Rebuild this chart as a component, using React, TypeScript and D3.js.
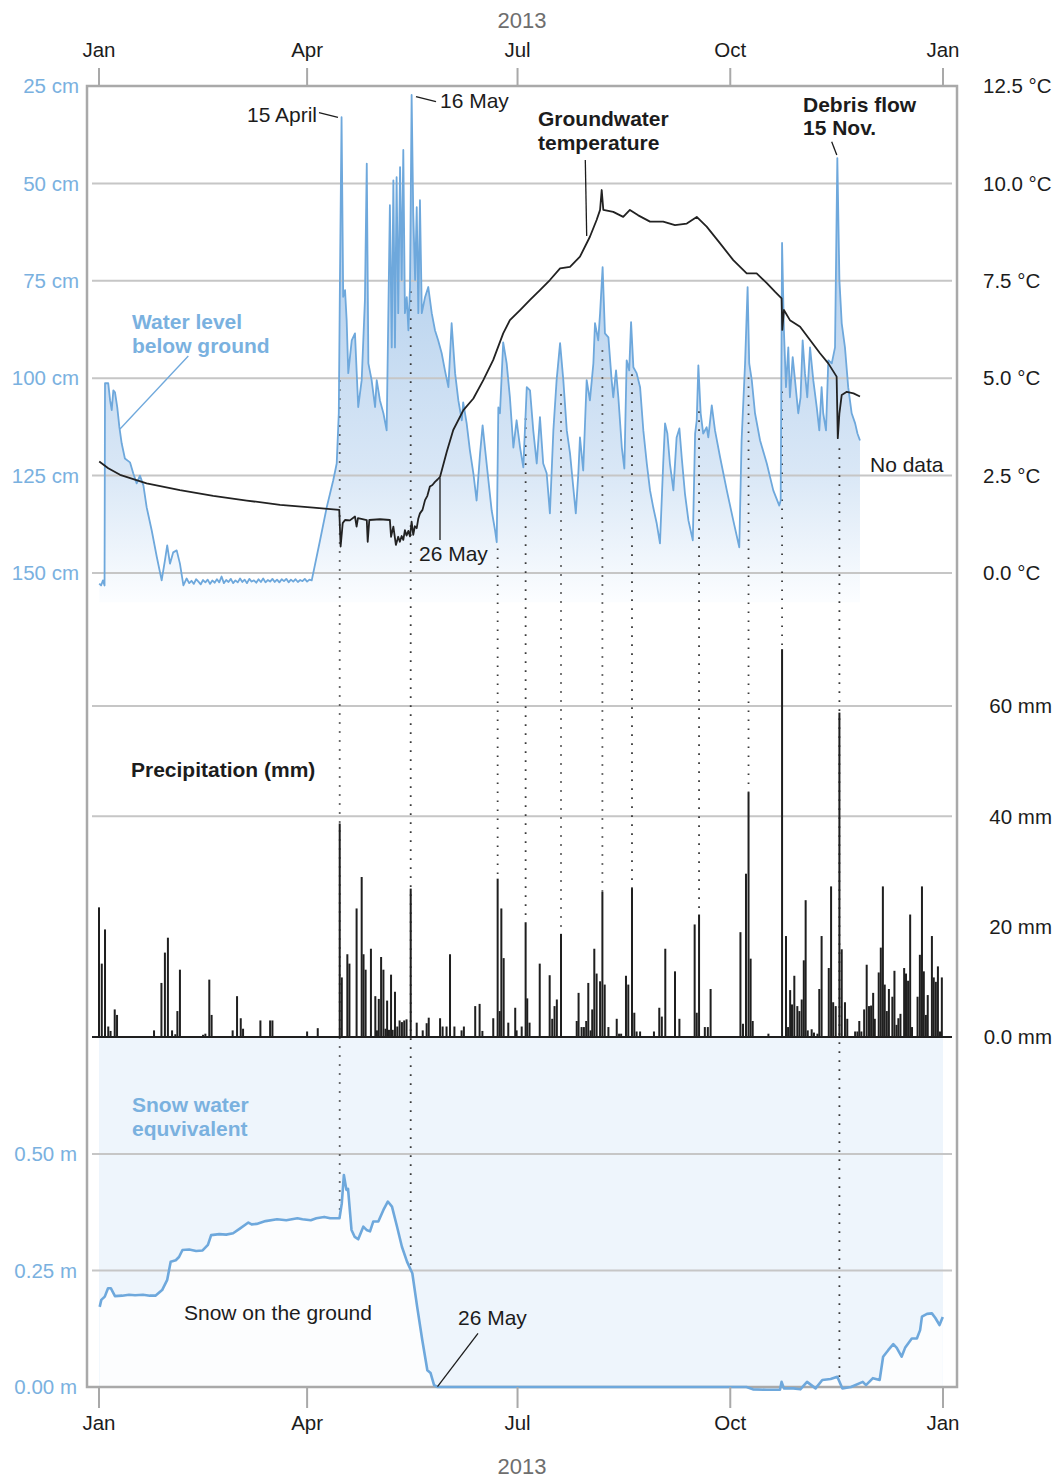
import React from "react";
import * as d3 from "d3";

// ---------- DATA (day of year 2013, value) ----------
const waterLevel: [number, number][] = [
  [0.1,152.7],[0.9,153.2],[1.7,151.9],[2.4,153.2],[2.6,101.3],[4.0,101.3],[4.8,105.7],[5.5,108.2],[6.2,103.1],[6.9,103.6],[7.9,107.5],[8.8,112.5],[9.8,116.7],[11.2,120.6],[13.4,121.6],[14.8,124.4],[16.3,127.0],[17.7,125.0],[19.2,127.5],[20.6,133.1],[22.8,139.1],[25.0,145.9],[27.1,151.9],[28.5,146.8],[29.5,142.9],[30.7,147.6],[32.1,144.7],[33.6,144.2],[35.0,147.6],[36.5,153.2],[37.9,151.4],
  [39,152.6],[40,152.0],[41,152.8],[42,151.6],[43,152.2],[44,152.9],[45,151.8],[46,152.4],[47,151.7],[48,152.8],[49,151.9],[50,152.5],[51,151.6],[52,152.4],[53,150.9],[54,152.6],[55,151.8],[56,152.3],[57,151.5],[58,152.6],[59,151.9],[60,152.4],[61,151.4],[62,152.3],[63,151.7],[64,152.6],[65,151.5],[66,152.2],[67,151.9],[68,152.5],[69,151.6],[70,152.3],[71,151.4],[72,152.4],[73,151.8],[74,152.2],[75,151.5],[76,152.3],[77,151.7],[78,152.4],[79,151.6],[80,152.1],[81,151.5],[82,152.4],[83,151.7],[84,152.2],[85,151.6],[86,152.3],[87,151.8],[88,152.1],[89,151.5],[90,152.2],[91,151.7],[92.0,151.9],
  [95.6,141.6],[98.5,133.1],[101.3,126.2],[102.8,121.9],[103.7,109.0],[104.2,74.8],[104.9,33.0],[105.6,79.1],[106.4,77.4],[107.1,85.1],[107.8,98.7],[109.3,90.3],[110.7,88.5],[112.1,107.4],[113.6,100.5],[115.0,80.0],[115.8,44.9],[116.5,96.2],[117.9,100.5],[119.4,107.4],[120.1,100.5],[121.5,105.7],[123.0,109.0],[124.4,113.4],[125.8,55.6],[126.6,92.1],[127.3,49.2],[128.0,92.1],[128.7,48.4],[129.4,83.3],[130.2,45.8],[130.9,74.8],[131.6,41.4],[132.3,83.3],[133.1,79.2],[133.8,87.7],[134.5,76.6],[135.2,27.3],[135.9,57.6],[136.7,74.8],[137.4,56.1],[138.1,83.3],[138.8,54.3],[139.6,83.3],[141.0,79.2],[142.4,76.6],[143.9,83.3],[145.3,87.7],[146.7,90.3],[148.2,93.6],[149.6,98.0],[151.1,102.3],[152.5,85.9],[154.0,98.7],[155.4,105.7],[156.9,110.8],[157.5,106.2],[159.0,111.6],[160.4,118.5],[161.9,124.4],[163.3,131.4],[164.8,119.3],[165.9,112.1],[166.9,117.8],[168.4,126.2],[169.8,133.9],[171.3,139.1],[172.0,142.1],[172.7,107.5],[173.4,109.0],[174.8,90.8],[176.3,96.2],[177.7,104.9],[179.2,117.8],[180.6,110.8],[182.1,117.8],[183.5,122.9],[185.0,102.3],[186.4,103.1],[187.8,113.4],[189.3,121.9],[190.7,110.0],[192.1,121.9],[193.6,124.4],[195.0,134.7],[196.5,113.4],[197.9,100.5],[199.4,91.0],[200.8,100.5],[202.3,113.4],[203.7,119.3],[205.1,128.0],[206.2,134.7],[207.3,124.4],[208.0,115.2],[209.4,123.7],[210.9,100.5],[212.3,105.7],[213.8,96.2],[214.5,85.9],[215.9,90.3],[216.7,83.3],[217.8,71.5],[218.8,88.5],[220.3,89.5],[221.7,100.5],[222.4,104.9],[223.6,98.0],[224.6,104.9],[226.1,117.8],[227.2,123.2],[228.2,95.4],[229.3,98.0],[230.1,85.6],[231.1,97.2],[232.5,98.7],[234.0,102.3],[235.4,113.4],[236.9,121.9],[238.3,128.8],[239.7,133.2],[241.2,137.3],[242.6,142.4],[244.0,121.9],[244.8,111.6],[245.8,114.2],[246.9,121.9],[248.4,128.8],[249.8,115.2],[251.0,112.9],[252.0,120.3],[253.4,129.6],[254.9,136.5],[256.8,141.6],[257.8,114.2],[258.5,110.8],[259.2,96.7],[260.2,109.0],[261.3,114.2],[262.8,112.6],[263.5,115.2],[265.0,107.0],[266.4,113.4],[268.6,120.3],[271.5,128.8],[274.3,136.5],[276.9,143.4],[277.9,116.0],[279.4,96.2],[280.5,76.6],[281.2,96.2],[282.3,100.5],[283.7,109.0],[285.9,116.0],[288.8,121.9],[291.6,128.8],[294.2,132.7],[294.8,131.4],[295.4,65.3],[296.2,87.7],[297.1,102.3],[298.1,92.1],[298.8,104.9],[300.0,94.6],[301.0,100.5],[302.4,109.0],[303.4,104.9],[304.3,90.3],[305.3,98.7],[306.3,104.9],[307.5,92.1],[308.9,100.5],[310.4,107.5],[311.5,113.4],[312.5,102.3],[313.2,109.0],[314.4,113.4],[315.4,95.4],[316.9,96.2],[318.3,92.1],[319.3,43.5],[320.2,74.8],[321.2,85.9],[322.6,92.1],[324.0,102.3],[325.5,109.0],[327.0,111.6],[328.0,114.2],[329.1,116.0],
];

const groundwaterTemp: [number, number][] = [
  [0.1,2.86],[4.0,2.69],[9.1,2.52],[20.6,2.30],[35.0,2.13],[49.4,1.98],[63.9,1.86],[78.3,1.75],[92.7,1.68],[103.9,1.62],[104.5,0.68],[105.4,1.28],[106.4,1.36],[108.5,1.35],[110.7,1.45],[111.4,1.19],[112.0,1.41],[115.8,1.36],[116.2,0.80],[116.9,1.36],[121.5,1.38],[125.8,1.36],[126.3,0.93],[127.3,1.19],[128.4,0.72],[129.4,0.93],[130.1,0.80],[130.9,0.95],[131.6,0.85],[132.3,1.10],[133.0,0.96],[133.8,1.08],[134.5,0.94],[135.2,1.32],[135.9,0.98],[136.6,1.20],[137.4,1.15],[138.1,1.40],[138.8,1.53],[139.9,1.62],[141.0,1.87],[142.0,1.98],[143.1,2.22],[144.2,2.26],[145.3,2.34],[146.4,2.40],[147.5,2.47],[150.4,3.11],[153.2,3.67],[157.6,4.18],[161.9,4.48],[166.2,4.95],[170.5,5.47],[174.8,6.15],[177.7,6.49],[182.1,6.75],[186.4,7.01],[190.7,7.26],[195.0,7.52],[199.4,7.82],[203.7,7.86],[208.0,8.12],[212.3,8.63],[215.2,9.06],[216.7,9.32],[217.4,9.83],[218.1,9.32],[222.4,9.27],[226.7,9.14],[229.6,9.32],[233.2,9.18],[238.3,9.02],[244.0,9.02],[249.1,8.93],[254.2,8.97],[258.5,9.14],[262.8,8.89],[268.6,8.46],[274.3,8.03],[280.1,7.69],[284.4,7.69],[288.8,7.44],[292.3,7.22],[295.2,7.05],[295.5,6.24],[296.2,6.75],[298.8,6.49],[303.2,6.32],[307.5,5.98],[311.8,5.64],[315.4,5.38],[319.0,5.04],[319.5,3.46],[320.2,4.10],[321.2,4.57],[323.4,4.65],[326.3,4.61],[329.1,4.53],
];

const precipitation: [number, number][] = [
  [0.0,23.5],[1.2,13.3],[2.6,19.5],[4.0,1.9],[5.0,1.1],[6.8,5.0],[7.8,4.0],
  [23.8,1.2],[27.0,9.8],[28.5,15.3],[29.8,18.0],[31.6,1.2],[33.0,0.5],[33.9,4.7],[35.0,12.2],
  [45.0,0.4],[46.0,0.6],[47.7,10.4],[48.7,4.0],[57.8,1.2],[59.7,7.4],[61.3,3.4],[62.3,1.5],
  [69.8,3.0],[74.0,3.0],[75.0,3.0],[90.0,1.0],[94.6,1.6],
  [104.1,38.7],[105.0,10.8],[107.4,15.0],[108.3,13.3],[111.4,23.3],[113.6,29.0],[114.4,15.0],[115.3,12.2],[117.6,16.0],[119.5,7.4],[120.2,1.2],[121.0,6.9],[122.0,14.5],[123.0,12.2],[123.9,1.5],[124.6,6.6],[125.4,1.3],[126.3,11.3],[127.0,1.3],[128.0,8.2],[129.0,1.9],[130.0,3.0],[131.0,2.7],[132.0,3.0],[133.0,3.2],[134.8,26.9],[137.4,2.6],[140.0,1.2],[141.7,2.5],[142.6,3.5],[147.5,3.4],[148.6,1.9],[150.3,1.9],[151.8,15.0],[153.7,1.9],[156.8,1.2],[157.8,1.9],[162.7,5.6],[164.6,6.0],[165.8,1.1],[170.5,3.4],
  [172.4,28.7],[173.3,4.7],[174.0,23.3],[175.0,14.3],[177.0,2.6],[180.0,5.3],[180.6,1.2],[182.8,1.9],[184.5,20.8],[185.2,7.0],[186.2,2.6],[190.6,13.3],[194.9,11.2],[196.0,3.3],[197.0,5.6],[198.0,6.8],[199.8,18.7],
  [206.6,2.9],[207.4,8.0],[208.7,1.8],[209.7,1.8],[210.7,2.9],[211.6,9.8],[212.6,1.2],[213.3,5.0],[214.2,16.0],[215.2,11.5],[216.7,10.1],[217.7,26.3],[218.7,9.5],[220.3,1.8],[223.9,3.3],[224.9,0.6],[225.8,0.6],[227.9,11.1],[228.9,9.5],[230.5,27.0],[231.5,4.4],[232.5,1.0],[234.0,1.0],[240.0,1.0],[242.3,5.3],[243.4,3.7],[244.9,16.0],[249.1,11.9],[251.0,3.3],[257.6,20.4],[258.5,4.4],[259.5,22.2],[262.0,1.8],[263.3,1.8],[264.5,8.7],
  [277.4,19.0],[278.5,2.4],[279.8,29.6],[280.9,44.4],[281.8,14.2],[282.7,2.9],[289.5,0.6],[295.4,70.3],[297.1,18.3],[298.0,1.8],[298.9,8.5],[299.7,5.9],[300.7,11.1],[302.0,5.6],[302.9,4.7],[303.9,6.8],[304.8,13.9],[305.6,24.8],[306.5,1.2],[308.2,1.4],[309.2,0.8],[310.7,0.6],[311.5,8.7],[312.5,18.3],[315.6,12.5],[316.6,27.3],[317.5,6.3],[318.6,5.6],[320.2,58.8],[321.2,15.9],[322.6,6.3],[323.6,3.3],
  [327.0,1.0],[328.0,1.0],[328.8,2.9],[329.7,1.0],[330.9,5.0],[332.0,13.1],[333.0,5.6],[333.9,5.7],[334.8,8.0],[335.5,3.3],[337.2,11.7],[338.1,16.2],[339.0,27.3],[339.8,9.5],[340.7,4.7],[341.6,8.7],[343.1,7.3],[344.0,12.0],[344.9,2.2],[345.7,3.4],[346.6,4.2],[348.2,12.5],[349.0,11.5],[349.9,10.2],[350.8,22.2],[351.6,1.8],[354.0,7.3],[355.0,14.9],[355.9,27.3],[356.7,11.9],[357.6,4.0],[358.4,7.6],[360.2,18.3],[361.0,10.8],[361.9,10.0],[362.8,12.8],[363.7,1.0],[364.5,10.8],
];

const snowWaterEquivalent: [number, number][] = [
  [0.3,0.172],[1.0,0.187],[2.5,0.194],[3.9,0.212],[5.1,0.212],[6.9,0.195],[10.0,0.196],[13.0,0.198],[15.6,0.197],[19.0,0.198],[22.0,0.196],[24.4,0.196],[27.3,0.208],[29.5,0.230],[31.0,0.269],[33.2,0.272],[34.6,0.279],[36.1,0.294],[39.0,0.295],[42.0,0.292],[44.8,0.293],[47.1,0.305],[48.5,0.326],[52.0,0.328],[55.0,0.327],[58.0,0.330],[60.9,0.340],[64.6,0.353],[66.0,0.349],[68.2,0.350],[72.0,0.356],[77.0,0.360],[81.0,0.358],[85.8,0.362],[88.0,0.360],[91.6,0.358],[94.0,0.362],[97.4,0.365],[100.0,0.362],[104.0,0.362],[105.0,0.394],[105.9,0.455],[107.0,0.423],[107.7,0.425],[109.2,0.337],[110.6,0.322],[112.1,0.317],[114.3,0.344],[115.7,0.337],[117.2,0.334],[118.6,0.355],[120.8,0.355],[123.0,0.380],[124.9,0.398],[126.7,0.387],[128.9,0.344],[131.0,0.301],[133.2,0.269],[135.5,0.244],[137.6,0.172],[139.8,0.101],[142.0,0.036],[143.4,0.030],[144.9,0.004],[146.4,0.0],
  [280.0,0.0],[282.8,-0.005],[288.7,-0.006],[294.5,-0.006],[295.2,0.011],[296.2,-0.003],[300.3,-0.003],[303.3,-0.005],[306.2,0.011],[309.9,-0.003],[312.8,0.015],[316.4,0.017],[319.3,0.022],[321.5,-0.003],[325.2,0.0],[330.3,0.011],[331.7,0.004],[334.7,0.019],[337.6,0.015],[339.1,0.065],[341.3,0.079],[343.5,0.092],[345.0,0.084],[347.1,0.065],[348.6,0.084],[351.5,0.104],[353.7,0.104],[355.1,0.122],[355.9,0.151],[358.1,0.157],[360.2,0.158],[361.7,0.148],[363.5,0.133],[364.9,0.150],
];

// dotted event markers: day, water depth where the marker starts, where it ends
const eventDays = [104.1, 134.8, 172.4, 184.5, 199.8, 217.7, 230.5, 259.5, 280.9, 295.4, 320.2];
const eventStartDepth = [100.5, 77.7, 143.7, 110.3, 104.1, 92.8, 99.0, 108.5, 99.8, 103.4, 118.0];
const eventEndsOnSnow = [true, true, false, false, false, false, false, false, false, false, true];

const waterTicks = [25, 50, 75, 100, 125, 150];
const tempTicks = [12.5, 10, 7.5, 5, 2.5, 0];
const precipTicks = [0, 20, 40, 60];
const precipGrid = [40, 60];
const snowTicks = [0, 0.25, 0.5];

const YEAR_START = new Date(2013, 0, 1);
const YEAR_END = new Date(2014, 0, 1);
const dayToDate = (d: number) => new Date(YEAR_START.getTime() + d * 86400000);

const FONT = "'Liberation Sans', Arial, Helvetica, sans-serif";
const BLUE = "#6ea8dc";
const BLUE_TEXT = "#7ab1df";
const GRID = "#c6c6c6";
const FRAME = "#a9a9a9";
const INK = "#1c1c1c";

export default function App() {
  const x = d3.scaleTime().domain([YEAR_START, YEAR_END]).range([99, 943]);
  const xd = (d: number) => x(dayToDate(d));
  const yWater = d3.scaleLinear().domain([25, 150]).range([86, 573]);
  const yTemp = d3.scaleLinear().domain([0, 12.5]).range([573, 86]);
  const yPrecip = d3.scaleLinear().domain([0, 60]).range([1037, 706]);
  const ySnow = d3.scaleLinear().domain([0, 0.5]).range([1387, 1154]);

  const monthTicks = d3.timeMonth.every(3)!.range(YEAR_START, d3.timeDay.offset(YEAR_END, 1));
  const fmtMonth = d3.timeFormat("%b");

  const waterLine = d3.line<[number, number]>().x(d => xd(d[0])).y(d => yWater(d[1]))(waterLevel) || "";
  const waterArea = d3.area<[number, number]>().x(d => xd(d[0])).y0(yWater(157.5)).y1(d => yWater(d[1]))(waterLevel) || "";
  const tempLine = d3.line<[number, number]>().x(d => xd(d[0])).y(d => yTemp(d[1]))(groundwaterTemp) || "";
  const snowLine = d3.line<[number, number]>().x(d => xd(d[0])).y(d => ySnow(d[1]))(snowWaterEquivalent) || "";
  const snowArea = d3.area<[number, number]>().x(d => xd(d[0])).y0(ySnow(0)).y1(d => ySnow(d[1]))(snowWaterEquivalent) || "";

  const snowAt = (day: number) => {
    const i = d3.bisector((d: [number, number]) => d[0]).left(snowWaterEquivalent, day);
    const a = snowWaterEquivalent[Math.max(0, i - 1)];
    const b = snowWaterEquivalent[Math.min(snowWaterEquivalent.length - 1, i)];
    if (a[0] === b[0]) return a[1];
    return a[1] + (b[1] - a[1]) * (day - a[0]) / (b[0] - a[0]);
  };
  const precipAt = (day: number) => {
    const found = precipitation.find(p => Math.abs(p[0] - day) < 0.05);
    return found ? found[1] : 0;
  };

  const gridX0 = 92, gridX1 = 952;

  return (
    <svg width={1060} height={1480} style={{ position: "absolute", left: 0, top: 0, background: "#ffffff" }} fontFamily={FONT}>
      <defs>
        <linearGradient id="wlGrad" gradientUnits="userSpaceOnUse" x1={0} y1={86} x2={0} y2={600}>
          <stop offset="0" stopColor="#9fc4ea" />
          <stop offset="0.4" stopColor="#bcd5ef" />
          <stop offset="0.75" stopColor="#d9e7f6" />
          <stop offset="1" stopColor="#fbfdff" />
        </linearGradient>
      </defs>
      <rect x={0} y={0} width={1060} height={1480} fill="#ffffff" />

      {/* snow panel background */}
      <rect x={xd(0)} y={yPrecip(0)} width={xd(365) - xd(0)} height={ySnow(0) - yPrecip(0)} fill="#eef5fc" />
      <path d={snowArea} fill="#fcfdfe" />

      {/* water level fill */}
      <path d={waterArea} fill="url(#wlGrad)" />

      {/* gridlines */}
      {waterTicks.slice(1).map(t => (
        <line key={"wg" + t} x1={gridX0} x2={gridX1} y1={yWater(t)} y2={yWater(t)} stroke={GRID} strokeWidth={2} />
      ))}
      {precipGrid.map(t => (
        <line key={"pg" + t} x1={gridX0} x2={gridX1} y1={yPrecip(t)} y2={yPrecip(t)} stroke={GRID} strokeWidth={2} />
      ))}
      {snowTicks.slice(1).map(t => (
        <line key={"sg" + t} x1={gridX0} x2={gridX1} y1={ySnow(t)} y2={ySnow(t)} stroke={GRID} strokeWidth={2} />
      ))}

      {/* dotted event markers */}
      {eventDays.map((d, i) => {
        const yEnd = eventEndsOnSnow[i] ? ySnow(snowAt(d)) : yPrecip(precipAt(d));
        return (
          <line key={"ev" + i} x1={xd(d)} x2={xd(d)} y1={yWater(eventStartDepth[i])} y2={yEnd}
            stroke="#3a3a3a" strokeWidth={1.8} strokeDasharray="1.6 7.4" />
        );
      })}

      {/* precipitation bars */}
      {precipitation.map((p, i) => (
        <rect key={"p" + i} x={xd(p[0]) - 1} width={2} y={yPrecip(p[1])} height={yPrecip(0) - yPrecip(p[1])} fill="#1f1f1f" />
      ))}
      <line x1={gridX0} x2={gridX1} y1={yPrecip(0)} y2={yPrecip(0)} stroke="#1f1f1f" strokeWidth={2} />

      {/* frame */}
      <rect x={87} y={86} width={870} height={1301} fill="none" stroke={FRAME} strokeWidth={2.5} />

      {/* series lines */}
      <path d={waterLine} fill="none" stroke={BLUE} strokeWidth={1.8} strokeLinejoin="round" />
      <path d={tempLine} fill="none" stroke="#222" strokeWidth={1.8} strokeLinejoin="round" />
      <path d={snowLine} fill="none" stroke={BLUE} strokeWidth={2.6} strokeLinejoin="round" />

      {/* time axes */}
      {monthTicks.map((m, i) => (
        <g key={"mt" + i}>
          <line x1={x(m)} x2={x(m)} y1={68} y2={86} stroke={FRAME} strokeWidth={2} />
          <text x={x(m)} y={57} textAnchor="middle" fontSize={20.5} fill={INK}>{fmtMonth(m)}</text>
          <line x1={x(m)} x2={x(m)} y1={1387} y2={1408} stroke={FRAME} strokeWidth={2} />
          <text x={x(m)} y={1430} textAnchor="middle" fontSize={20.5} fill={INK}>{fmtMonth(m)}</text>
        </g>
      ))}
      <text x={522} y={27.5} textAnchor="middle" fontSize={22} fill="#6e6e6e">2013</text>
      <text x={522} y={1473.5} textAnchor="middle" fontSize={22} fill="#6e6e6e">2013</text>

      {/* value axes */}
      {waterTicks.map(t => (
        <text key={"wt" + t} x={79} y={yWater(t)} dy="0.35em" textAnchor="end" fontSize={20.5} fill={BLUE_TEXT}>{t} cm</text>
      ))}
      {tempTicks.map(t => (
        <text key={"tt" + t} x={983} y={yTemp(t)} dy="0.35em" textAnchor="start" fontSize={20.5} fill={INK}>{d3.format(".1f")(t)} °C</text>
      ))}
      {precipTicks.map(t => (
        <text key={"pt" + t} x={1052} y={yPrecip(t)} dy="0.35em" textAnchor="end" fontSize={20.5} fill={INK}>{t === 0 ? "0.0" : t} mm</text>
      ))}
      {snowTicks.map(t => (
        <text key={"st" + t} x={77} y={ySnow(t)} dy="0.35em" textAnchor="end" fontSize={20.5} fill={BLUE_TEXT}>{d3.format(".2f")(t)} m</text>
      ))}

      {/* annotations */}
      <g fontSize={21} fill={INK}>
        <text x={317} y={121.5} textAnchor="end">15 April</text>
        <line x1={319} y1={112.7} x2={338} y2={117.3} stroke={INK} strokeWidth={1.3} />
        <text x={440} y={107.5}>16 May</text>
        <line x1={416} y1={96.7} x2={436} y2={101.7} stroke={INK} strokeWidth={1.3} />
        <text x={538} y={125.5} fontWeight="bold">Groundwater</text>
        <text x={538} y={149.5} fontWeight="bold">temperature</text>
        <line x1={585.3} y1={160} x2={586.7} y2={236} stroke={INK} strokeWidth={1.3} />
        <text x={803} y={111.5} fontWeight="bold">Debris flow</text>
        <text x={803} y={134.5} fontWeight="bold">15 Nov.</text>
        <line x1={831.7} y1={141.7} x2={836.8} y2={155} stroke={INK} strokeWidth={1.3} />
        <text x={132} y={328.5} fontWeight="bold" fill={BLUE_TEXT}>Water level</text>
        <text x={132} y={352.5} fontWeight="bold" fill={BLUE_TEXT}>below ground</text>
        <line x1={188.3} y1={356} x2={120} y2={429} stroke={BLUE} strokeWidth={1.3} />
        <text x={870} y={471.5}>No data</text>
        <text x={419} y={560.5}>26 May</text>
        <line x1={440} y1={478} x2={440} y2={540} stroke={INK} strokeWidth={1.3} />
        <text x={131} y={776.5} fontWeight="bold">Precipitation (mm)</text>
        <text x={132} y={1111.5} fontWeight="bold" fill={BLUE_TEXT}>Snow water</text>
        <text x={132} y={1135.5} fontWeight="bold" fill={BLUE_TEXT}>equvivalent</text>
        <text x={184} y={1319.5}>Snow on the ground</text>
        <text x={458} y={1324.5}>26 May</text>
        <line x1={478} y1={1333.3} x2={437.5} y2={1386.7} stroke={INK} strokeWidth={1.3} />
      </g>
    </svg>
  );
}
